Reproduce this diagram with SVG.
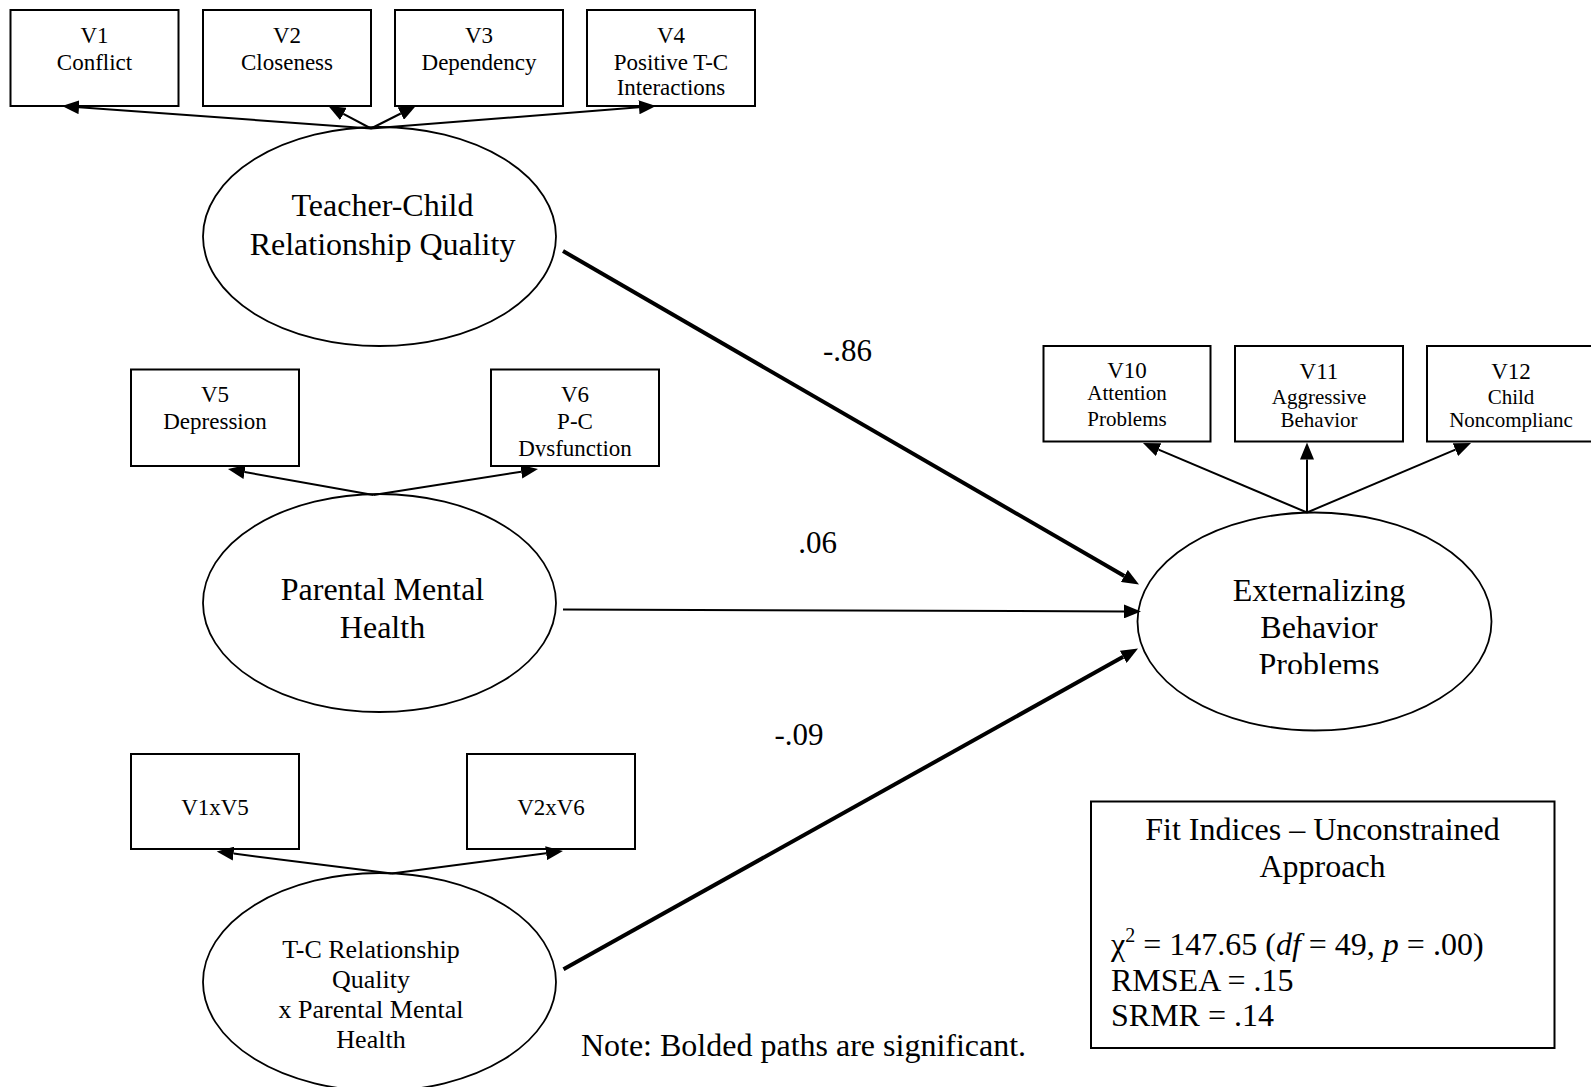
<svg xmlns="http://www.w3.org/2000/svg" width="1591" height="1087" viewBox="0 0 1591 1087">
  <style>
    .box { fill: #fff; stroke: #000; stroke-width: 2; }
    .lat { fill: #fff; stroke: #000; stroke-width: 1.8; }
    .t { font-family: "Liberation Serif", "Times New Roman", serif; fill: #000; text-anchor: middle; }
    .s23 { font-size: 23px; }
    .s21 { font-size: 21px; }
    .s32 { font-size: 32px; }
    .s26 { font-size: 26px; }
    .lbl { font-family: "Liberation Serif", "Times New Roman", serif; font-size: 31px; fill: #000; text-anchor: middle; }
    .fit { font-family: "Liberation Serif", "Times New Roman", serif; font-size: 32px; fill: #000; }
    .cn { stroke: #000; stroke-width: 2; fill: none; marker-end: url(#ah); }
    .bold { stroke-width: 4; }
  </style>
  <defs>
    <marker id="ah" markerUnits="userSpaceOnUse" markerWidth="18" markerHeight="14" viewBox="0 0 18 14" refX="0" refY="7" orient="auto">
      <path d="M0,0 L17,7 L0,14 z" fill="#000"/>
    </marker>
    <clipPath id="clipV6"><rect x="491" y="369" width="168" height="87.5"/></clipPath>
    <clipPath id="clipExt"><rect x="1137" y="512" width="355" height="162"/></clipPath>
  </defs>

  <rect width="1591" height="1087" fill="#fff"/>

  <!-- indicators of teacher-child relationship quality -->
  <g id="v1">
    <rect class="box" x="10.5" y="10" width="168" height="96"/>
    <text class="t s23" x="94.5" y="42.5">V1</text>
    <text class="t s23" x="94.5" y="69.5">Conflict</text>
  </g>
  <g id="v2">
    <rect class="box" x="203" y="10" width="168" height="96"/>
    <text class="t s23" x="287" y="42.5">V2</text>
    <text class="t s23" x="287" y="69.5">Closeness</text>
  </g>
  <g id="v3">
    <rect class="box" x="395" y="10" width="168" height="96"/>
    <text class="t s23" x="479" y="42.5">V3</text>
    <text class="t s23" x="479" y="69.5">Dependency</text>
  </g>
  <g id="v4">
    <rect class="box" x="587" y="10" width="168" height="96"/>
    <text class="t s23" x="671" y="42.5">V4</text>
    <text class="t s23" x="671" y="69.5">Positive T-C</text>
    <text class="t s23" x="671" y="95">Interactions</text>
  </g>

  <g id="teacher-child">
    <ellipse class="lat" cx="379.5" cy="236.5" rx="176.5" ry="109.5"/>
    <text class="t s32" x="382.5" y="216">Teacher-Child</text>
    <text class="t s32" x="382.5" y="254.5">Relationship Quality</text>
  </g>

  <!-- indicators of parental mental health -->
  <g id="v5">
    <rect class="box" x="131" y="369.5" width="168" height="96.5"/>
    <text class="t s23" x="215" y="401.5">V5</text>
    <text class="t s23" x="215" y="428.5">Depression</text>
  </g>
  <g id="v6">
    <rect class="box" x="491" y="369.5" width="168" height="96.5"/>
    <text class="t s23" x="575" y="401.5">V6</text>
    <text class="t s23" x="575" y="428.5">P-C</text>
    <text class="t s23" x="575" y="455.5" clip-path="url(#clipV6)">Dysfunction</text>
  </g>

  <g id="parental">
    <ellipse class="lat" cx="379.5" cy="603" rx="176.5" ry="109"/>
    <text class="t s32" x="382.5" y="600">Parental Mental</text>
    <text class="t s32" x="382.5" y="637.5">Health</text>
  </g>

  <!-- product indicators of the interaction -->
  <g id="v1xv5">
    <rect class="box" x="131" y="754" width="168" height="95"/>
    <text class="t s23" x="215" y="815">V1xV5</text>
  </g>
  <g id="v2xv6">
    <rect class="box" x="467" y="754" width="168" height="95"/>
    <text class="t s23" x="551" y="815">V2xV6</text>
  </g>

  <g id="interaction">
    <ellipse class="lat" cx="379.5" cy="982" rx="176.5" ry="109"/>
    <text class="t s26" x="371" y="957.5">T-C Relationship</text>
    <text class="t s26" x="371" y="987.5">Quality</text>
    <text class="t s26" x="371" y="1017.5">x Parental Mental</text>
    <text class="t s26" x="371" y="1047.5">Health</text>
  </g>

  <!-- outcome and its indicators -->
  <g id="v10">
    <rect class="box" x="1043.5" y="346" width="167" height="95.5"/>
    <text class="t s23" x="1127" y="378">V10</text>
    <text class="t s21" x="1127" y="400">Attention</text>
    <text class="t s21" x="1127" y="425.5">Problems</text>
  </g>
  <g id="v11">
    <rect class="box" x="1235" y="346" width="168" height="95.5"/>
    <text class="t s23" x="1319" y="379">V11</text>
    <text class="t s21" x="1319" y="404">Aggressive</text>
    <text class="t s21" x="1319" y="427">Behavior</text>
  </g>
  <g id="v12">
    <rect class="box" x="1427" y="346" width="168" height="95.5"/>
    <text class="t s23" x="1511" y="379">V12</text>
    <text class="t s21" x="1511" y="404">Child</text>
    <text class="t s21" x="1511" y="427">Noncomplianc</text>
  </g>

  <g id="externalizing">
    <ellipse class="lat" cx="1314.5" cy="621.5" rx="177" ry="109"/>
    <g clip-path="url(#clipExt)">
      <text class="t s32" x="1319" y="601">Externalizing</text>
      <text class="t s32" x="1319" y="637.5">Behavior</text>
      <text class="t s32" x="1319" y="675">Problems</text>
    </g>
  </g>

  <!-- fit statistics -->
  <g id="fit-indices">
    <rect class="box" x="1091" y="801.5" width="463.5" height="246.5"/>
    <text class="fit" x="1322.5" y="840" text-anchor="middle">Fit Indices – Unconstrained</text>
    <text class="fit" x="1322.5" y="877" text-anchor="middle">Approach</text>
    <text class="fit" x="1111" y="955">χ<tspan font-size="20px" dy="-13">2</tspan><tspan dy="13"> = 147.65 (</tspan><tspan font-style="italic">df</tspan> = 49, <tspan font-style="italic">p</tspan> = .00)</text>
    <text class="fit" x="1111" y="990.5">RMSEA = .15</text>
    <text class="fit" x="1111" y="1026">SRMR = .14</text>
  </g>

  <g id="note">
    <text class="t s32" x="803.5" y="1056">Note: Bolded paths are significant.</text>
  </g>

  <g id="connectors">
    <!-- loadings: teacher-child relationship quality -->
    <line class="cn" x1="371" y1="128.5" x2="79" y2="107.2"/>
    <line class="cn" x1="371" y1="128.5" x2="343.4" y2="113.9"/>
    <line class="cn" x1="371" y1="128.5" x2="400.8" y2="113.5"/>
    <line class="cn" x1="371" y1="128.5" x2="639" y2="107.3"/>
    <!-- loadings: parental mental health -->
    <line class="cn" x1="373.4" y1="495" x2="244.7" y2="472"/>
    <line class="cn" x1="373.4" y1="495" x2="521.2" y2="471.7"/>
    <!-- loadings: interaction -->
    <line class="cn" x1="391.7" y1="873.5" x2="233.6" y2="853.6"/>
    <line class="cn" x1="391.7" y1="873.5" x2="546.1" y2="853.2"/>
    <!-- loadings: externalizing behavior problems -->
    <line class="cn" x1="1307" y1="512.5" x2="1158.6" y2="449.6"/>
    <line class="cn" x1="1307" y1="512.5" x2="1307" y2="459.5"/>
    <line class="cn" x1="1307" y1="512.5" x2="1455.4" y2="449.6"/>
    <!-- structural paths -->
    <line class="cn bold" x1="563" y1="251" x2="1124.3" y2="576"/>
    <line class="cn" x1="563" y1="609.5" x2="1124" y2="611.4"/>
    <line class="cn bold" x1="563.5" y1="969.3" x2="1123.2" y2="656.8"/>
  </g>

  <g id="path-labels">
    <text class="lbl" x="847.5" y="361">-.86</text>
    <text class="lbl" x="817.5" y="553">.06</text>
    <text class="lbl" x="799" y="745">-.09</text>
  </g>
</svg>
